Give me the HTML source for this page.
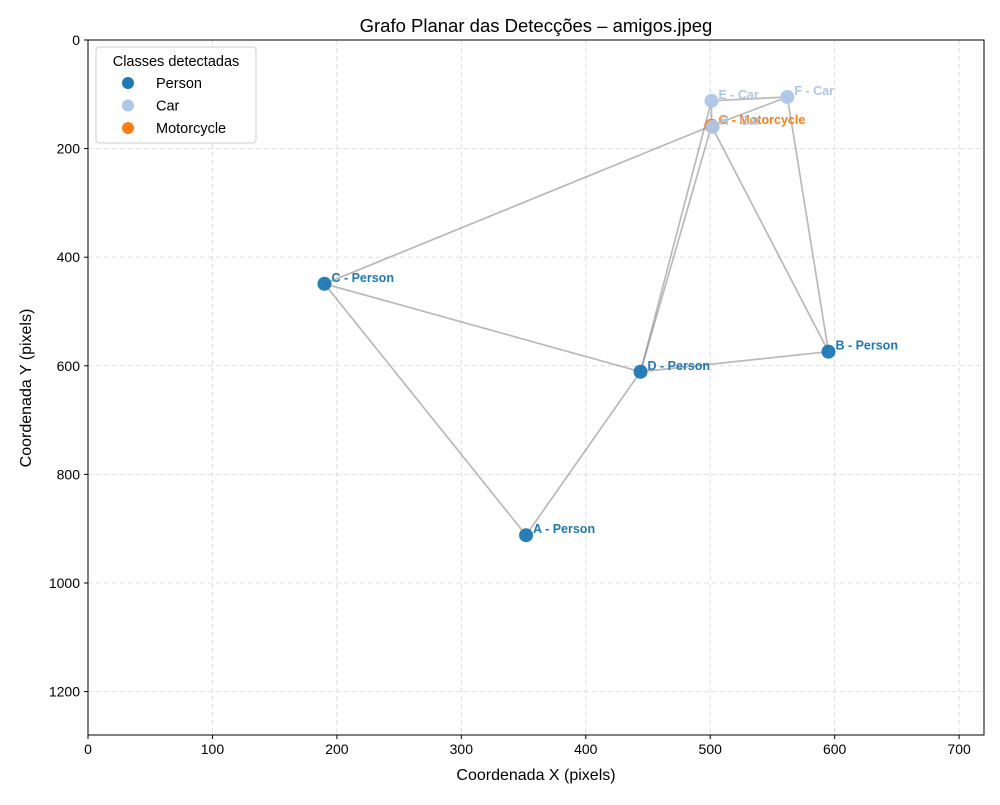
<!DOCTYPE html>
<html><head><meta charset="utf-8"><style>
body{margin:0;background:#fff;font-family:"Liberation Sans","DejaVu Sans",sans-serif}
</style></head><body>
<svg id="chart" width="1000" height="800" xmlns="http://www.w3.org/2000/svg" font-family="Liberation Sans, DejaVu Sans, sans-serif"></svg>
<script>
const nodeLabels=["A","B","C","D","E","F","G","H"];
const nodeClasses=["Person","Person","Person","Person","Car","Car","Motorcycle","Car"];
const nodeX=[352,595,190,444,501,562,501,502];
const nodeY=[912,574,449,611,112,105,158,160];
const edgeFrom=["A","A","C","C","D","D","D","B","B","E","E","F"];
const edgeTo=["C","D","D","G","B","G","E","G","F","F","G","G"];
const xTicks=[0,100,200,300,400,500,600,700];
const yTicks=[0,200,400,600,800,1000,1200];
const classNames=["Person","Car","Motorcycle"];
const classColors=["#1f77b4","#aec7e8","#ff7f0e"];

const L=88,R=984,T=40,B=735;
const sx=v=>L+v*(R-L)/720;
const sy=v=>T+v*(B-T)/1280;
const svg=document.getElementById('chart');
const NS="http://www.w3.org/2000/svg";
function mk(tag,attrs,parent){const e=document.createElementNS(NS,tag);for(const k in attrs)e.setAttribute(k,attrs[k]);(parent||svg).appendChild(e);return e;}
const col=c=>classColors[classNames.indexOf(c)];

xTicks.forEach(t=>{const g=mk('line',{x1:sx(t),x2:sx(t),y1:T,y2:B,stroke:'#e0e0e0','stroke-dasharray':'5,3'});

});
yTicks.forEach(t=>{const g=mk('line',{x1:L,x2:R,y1:sy(t),y2:sy(t),stroke:'#e0e0e0','stroke-dasharray':'5,3'});

});

edgeFrom.forEach((f,i)=>{const a=nodeLabels.indexOf(f),b=nodeLabels.indexOf(edgeTo[i]);
const e=mk('line',{x1:sx(nodeX[a]),y1:sy(nodeY[a]),x2:sx(nodeX[b]),y2:sy(nodeY[b]),stroke:'#808080','stroke-opacity':0.55,'stroke-width':1.7});

});

nodeLabels.forEach((n,i)=>{const c=mk('circle',{cx:sx(nodeX[i]),cy:sy(nodeY[i]),r:7,fill:col(nodeClasses[i]),opacity:0.95});

});
nodeLabels.forEach((n,i)=>{const t=mk('text',{x:sx(nodeX[i])+7,y:sy(nodeY[i])-2,'font-size':12.5,'font-weight':'bold',fill:col(nodeClasses[i])});
t.textContent=n+' - '+nodeClasses[i];

});

const fr=mk('rect',{x:L,y:T,width:R-L,height:B-T,fill:'none',stroke:'#000','stroke-width':1});



xTicks.forEach(t=>{mk('line',{x1:sx(t),x2:sx(t),y1:B,y2:B+4,stroke:'#000'});
const tx=mk('text',{x:sx(t),y:B+19,'font-size':14,'text-anchor':'middle'});tx.textContent=t;

});
yTicks.forEach(t=>{mk('line',{x1:L-4,x2:L,y1:sy(t),y2:sy(t),stroke:'#000'});
const ty=mk('text',{x:L-8,y:sy(t)+5,'font-size':14,'text-anchor':'end'});ty.textContent=t;

});

const ti=mk('text',{x:536,y:32,'font-size':18.5,'text-anchor':'middle'});ti.textContent='Grafo Planar das Detecções – amigos.jpeg';


const xt=mk('text',{x:536,y:780,'font-size':16,'text-anchor':'middle'});xt.textContent='Coordenada X (pixels)';


const yt=mk('text',{x:31,y:388,'font-size':16,'text-anchor':'middle',transform:'rotate(-90 31 388)'});yt.textContent='Coordenada Y (pixels)';



const lg=mk('g',{});


mk('rect',{x:96,y:47,width:160,height:96,rx:3,fill:'#fff','fill-opacity':0.8,stroke:'#ccc'},lg);
const lt=mk('text',{x:176,y:66,'font-size':14.5,'text-anchor':'middle'},lg);lt.textContent='Classes detectadas';
classNames.forEach((c,i)=>{const y=83+i*22.5;
const g=mk('g',{},lg);


mk('circle',{cx:128,cy:y,r:6,fill:classColors[i]},g);
const t=mk('text',{x:156,y:y+5,'font-size':14.5},g);t.textContent=c;});
</script>
</body></html>
